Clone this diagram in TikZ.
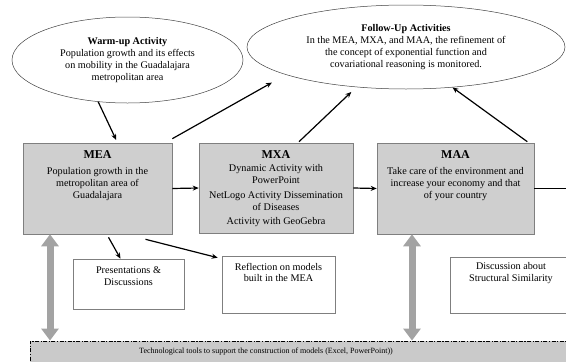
\documentclass[tikz,border=0pt]{standalone}
\usepackage{fontspec}
\setmainfont{Liberation Serif}
\usetikzlibrary{shapes.geometric,arrows.meta,positioning}
\definecolor{boxgray}{HTML}{CFCFCF}
\definecolor{toolgray}{HTML}{CACACA}
\definecolor{fatgray}{HTML}{A3A3A3}
\definecolor{edgegray}{HTML}{7F7F7F}

\begin{document}
\begin{tikzpicture}[x=1pt,y=-1pt,
  every node/.style={font=\fontsize{10.2}{11.8}\selectfont,align=center},
  activity/.style={ellipse,draw=black!75,line width=0.5pt,inner sep=0pt},
  phase/.style={rectangle,draw=edgegray,fill=boxgray,line width=0.6pt,inner sep=0pt},
  note/.style={rectangle,draw=edgegray,fill=white,line width=0.6pt,inner sep=0pt},
  tools/.style={rectangle,draw=black,fill=toolgray,line width=0.9pt,
    dash pattern=on 4pt off 1.5pt on 1.2pt off 1.5pt,inner sep=0pt},
  inbox/.style={inner sep=1pt},
  flow/.style={-{Stealth[length=6pt,width=5pt]},line width=1.2pt},
  support/.style={{Triangle[width=17pt,length=12pt]}-{Triangle[width=17pt,length=12pt]},
    line width=7pt,draw=fatgray}
 ]
\useasboundingbox (0,0) rectangle (566,362);
\clip (0,0) rectangle (566,362);

\node[activity,minimum width=231pt,minimum height=86pt] (warmup) at (127.5,60)
  {\textbf{Warm-up Activity}\\Population growth and its effects\\on mobility in the Guadalajara\\metropolitan area};
\node[activity,minimum width=318pt,minimum height=84pt] (followup) at (406,47)
  {\textbf{Follow-Up Activities}\\In the MEA, MXA, and MAA, the refinement of\\the concept of exponential function and\\covariational reasoning is monitored.};

\node[phase,minimum width=149pt,minimum height=91pt] (mea) at (97.5,188.5) {};
\node[inbox,below=7pt of mea.north] (meatext)
  {{\fontsize{12}{13}\selectfont\bfseries MEA}\\[4pt]Population growth in the\\metropolitan area of\\Guadalajara};
\node[phase,minimum width=154pt,minimum height=90pt] (mxa) at (276,188) {};
\node[inbox,below=7pt of mxa.north] (mxatext)
  {{\fontsize{12}{13}\selectfont\bfseries MXA}\\[1pt]Dynamic Activity with\\PowerPoint\\[3pt]NetLogo Activity Dissemination\\of Diseases\\[3pt]Activity with GeoGebra};
\node[phase,minimum width=157pt,minimum height=91pt] (maa) at (455.5,188.5) {};
\node[inbox,below=7pt of maa.north] (maatext)
  {{\fontsize{12}{13}\selectfont\bfseries MAA}\\[4pt]Take care of the environment and\\increase your economy and that\\of your country};

\node[note,minimum width=111pt,minimum height=50pt] (pres) at (128.5,284) {};
\node[inbox,below=7pt of pres.north] (prestext) {Presentations \&\\Discussions};
\node[note,minimum width=113pt,minimum height=57pt] (refl) at (278.5,284.5) {};
\node[inbox,below=6pt of refl.north] (refltext) {Reflection on models\\built in the MEA};
\node[note,minimum width=122pt,minimum height=56pt] (disc) at (511,285) {};
\node[inbox,below=5pt of disc.north] (disctext) {Discussion about\\Structural Similarity};

\node[tools,minimum width=590pt,minimum height=59pt] (tool) at (325,370.5) {};
\node[font=\fontsize{8}{9}\selectfont] (tooltext) at (266,352)
  {Technological tools to support the construction of models (Excel, PowerPoint))};

\coordinate (s1) at (50,0);
\coordinate (s2) at (412,0);
\coordinate (next) at (580,186);

\draw[flow,shorten >=3pt] (warmup.235) -- ([xshift=20pt]mea.north);
\draw[flow,shorten >=16pt] ([yshift=4pt]mea.north east) -- (followup.193);
\draw[flow,shorten >=7pt] ([xshift=23pt,yshift=1pt]mxa.north) -- (followup.219);
\draw[flow] ([xshift=-7pt,yshift=1pt]maa.north east) -- (followup.319);
\draw[flow] (mea.east) -- (mxa.west);
\draw[flow] (mxa.east) -- (maa.west);
\draw[line width=1.2pt] (maa.east) -- (maa.east -| next);
\draw[flow] ([xshift=11pt,yshift=-3pt]mea.south) -- ([xshift=-8pt]pres.north);
\draw[flow] ([xshift=48pt,yshift=-5pt]mea.south) -- ([xshift=-4pt,yshift=-2pt]refl.north west);
\draw[support] (mea.south -| s1) -- (tool.north -| s1);
\draw[support] (maa.south -| s2) -- (tool.north -| s2);
\end{tikzpicture}
\end{document}
